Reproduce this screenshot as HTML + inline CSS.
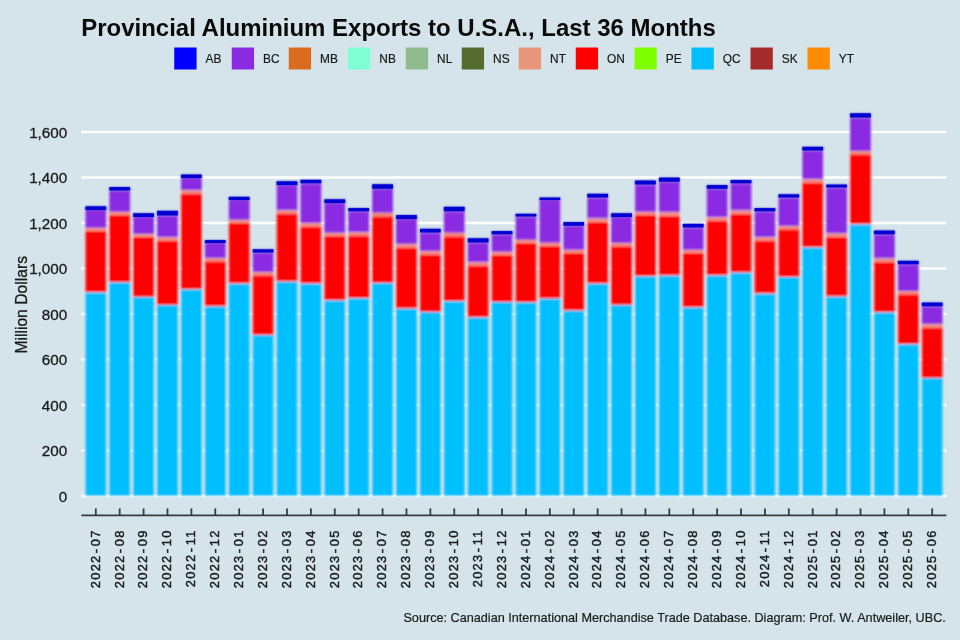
<!DOCTYPE html>
<html lang="en"><head><meta charset="utf-8">
<title>Provincial Aluminium Exports to U.S.A., Last 36 Months</title>
<style>
html,body{margin:0;padding:0;background:#d5e4eb;}
body{width:960px;height:640px;overflow:hidden;}
svg{display:block;}
text{font-family:"Liberation Sans",Arial,Helvetica,sans-serif;fill:#1a1a1a;}
.title{font-weight:bold;font-size:24px;fill:#0a0a0a;}
.leg{font-size:11.9px;stroke:#1a1a1a;stroke-width:0.2px;}
.yl{font-size:15.2px;text-anchor:end;stroke:#1a1a1a;stroke-width:0.3px;}
.yt{font-size:15.7px;text-anchor:middle;stroke:#1a1a1a;stroke-width:0.3px;}
.xl{font-family:"Liberation Sans",Arial,Helvetica,sans-serif;font-size:12.9px;letter-spacing:1.22px;text-anchor:end;stroke:#1a1a1a;stroke-width:0.45px;}
.cap{font-size:12.66px;text-anchor:end;stroke:#1a1a1a;stroke-width:0.2px;}
</style></head><body>
<svg width="960" height="640" viewBox="0 0 960 640">
<rect x="0" y="0" width="960" height="640" fill="#d5e4eb"/>
<text class="title" x="81.2" y="36" textLength="634.6" lengthAdjust="spacingAndGlyphs">Provincial Aluminium Exports to U.S.A., Last 36 Months</text>
<g>
<rect x="174.25" y="47.5" width="22.3" height="22" fill="#0000ff"/>
<text class="leg" x="205.55" y="63">AB</text>
<rect x="231.75" y="47.5" width="22.3" height="22" fill="#8a2be2"/>
<text class="leg" x="263.05" y="63">BC</text>
<rect x="288.75" y="47.5" width="22.3" height="22" fill="#d96c1f"/>
<text class="leg" x="320.05" y="63">MB</text>
<rect x="348.00" y="47.5" width="22.3" height="22" fill="#7fffd4"/>
<text class="leg" x="379.30" y="63">NB</text>
<rect x="405.75" y="47.5" width="22.3" height="22" fill="#8fbc8f"/>
<text class="leg" x="437.05" y="63">NL</text>
<rect x="461.75" y="47.5" width="22.3" height="22" fill="#556b2f"/>
<text class="leg" x="493.05" y="63">NS</text>
<rect x="518.75" y="47.5" width="22.3" height="22" fill="#e9967a"/>
<text class="leg" x="550.05" y="63">NT</text>
<rect x="575.75" y="47.5" width="22.3" height="22" fill="#ff0000"/>
<text class="leg" x="607.05" y="63">ON</text>
<rect x="634.50" y="47.5" width="22.3" height="22" fill="#7fff00"/>
<text class="leg" x="665.80" y="63">PE</text>
<rect x="691.50" y="47.5" width="22.3" height="22" fill="#00bfff"/>
<text class="leg" x="722.80" y="63">QC</text>
<rect x="750.50" y="47.5" width="22.3" height="22" fill="#a52a2a"/>
<text class="leg" x="781.80" y="63">SK</text>
<rect x="807.50" y="47.5" width="22.3" height="22" fill="#ff8c00"/>
<text class="leg" x="838.80" y="63">YT</text>
</g>
<g stroke="#ffffff" stroke-width="2.3">
<line x1="81.3" x2="946.3" y1="496.00" y2="496.00"/>
<line x1="81.3" x2="946.3" y1="450.50" y2="450.50"/>
<line x1="81.3" x2="946.3" y1="405.00" y2="405.00"/>
<line x1="81.3" x2="946.3" y1="359.50" y2="359.50"/>
<line x1="81.3" x2="946.3" y1="314.00" y2="314.00"/>
<line x1="81.3" x2="946.3" y1="268.50" y2="268.50"/>
<line x1="81.3" x2="946.3" y1="223.00" y2="223.00"/>
<line x1="81.3" x2="946.3" y1="177.50" y2="177.50"/>
<line x1="81.3" x2="946.3" y1="132.00" y2="132.00"/>
</g>
<g>
<text class="yl" x="67.2" y="501.90">0</text>
<text class="yl" x="67.2" y="456.40">200</text>
<text class="yl" x="67.2" y="410.90">400</text>
<text class="yl" x="67.2" y="365.40">600</text>
<text class="yl" x="67.2" y="319.90">800</text>
<text class="yl" x="67.2" y="274.40">1,000</text>
<text class="yl" x="67.2" y="228.90">1,200</text>
<text class="yl" x="67.2" y="183.40">1,400</text>
<text class="yl" x="67.2" y="137.90">1,600</text>
</g>
<text class="yt" transform="translate(26.9,304.8) rotate(-90)">Million Dollars</text>
<defs><filter id="soft" x="-2%" y="-2%" width="104%" height="104%"><feGaussianBlur stdDeviation="0.8"/></filter></defs>
<g stroke="#ffffff" stroke-width="0.5" stroke-opacity="0.55" filter="url(#soft)">
<rect x="85.15" y="206.25" width="21.30" height="3.75" fill="#0000c4"/>
<rect x="85.15" y="210.00" width="21.30" height="18.00" fill="#8a2be2"/>
<rect x="85.15" y="228.00" width="21.30" height="3.00" fill="#f27f6c"/>
<rect x="85.15" y="231.00" width="21.30" height="61.50" fill="#ff0000"/>
<rect x="85.15" y="292.50" width="21.30" height="203.50" fill="#00bfff"/>
<rect x="109.05" y="187.00" width="21.30" height="3.50" fill="#0000c4"/>
<rect x="109.05" y="190.50" width="21.30" height="21.50" fill="#8a2be2"/>
<rect x="109.05" y="212.00" width="21.30" height="3.00" fill="#f27f6c"/>
<rect x="109.05" y="215.00" width="21.30" height="67.50" fill="#ff0000"/>
<rect x="109.05" y="282.50" width="21.30" height="213.50" fill="#00bfff"/>
<rect x="132.94" y="213.25" width="21.30" height="3.75" fill="#0000c4"/>
<rect x="132.94" y="217.00" width="21.30" height="17.25" fill="#8a2be2"/>
<rect x="132.94" y="234.25" width="21.30" height="2.75" fill="#f27f6c"/>
<rect x="132.94" y="237.00" width="21.30" height="60.00" fill="#ff0000"/>
<rect x="132.94" y="297.00" width="21.30" height="199.00" fill="#00bfff"/>
<rect x="156.84" y="210.75" width="21.30" height="4.75" fill="#0000c4"/>
<rect x="156.84" y="215.50" width="21.30" height="22.00" fill="#8a2be2"/>
<rect x="156.84" y="237.50" width="21.30" height="3.00" fill="#f27f6c"/>
<rect x="156.84" y="240.50" width="21.30" height="64.50" fill="#ff0000"/>
<rect x="156.84" y="305.00" width="21.30" height="191.00" fill="#00bfff"/>
<rect x="180.74" y="174.50" width="21.30" height="3.50" fill="#0000c4"/>
<rect x="180.74" y="178.00" width="21.30" height="12.50" fill="#8a2be2"/>
<rect x="180.74" y="190.50" width="21.30" height="3.00" fill="#f27f6c"/>
<rect x="180.74" y="193.50" width="21.30" height="96.00" fill="#ff0000"/>
<rect x="180.74" y="289.50" width="21.30" height="206.50" fill="#00bfff"/>
<rect x="204.64" y="240.00" width="21.30" height="3.00" fill="#0000c4"/>
<rect x="204.64" y="243.00" width="21.30" height="15.25" fill="#8a2be2"/>
<rect x="204.64" y="258.25" width="21.30" height="3.00" fill="#f27f6c"/>
<rect x="204.64" y="261.25" width="21.30" height="45.25" fill="#ff0000"/>
<rect x="204.64" y="306.50" width="21.30" height="189.50" fill="#00bfff"/>
<rect x="228.53" y="196.75" width="21.30" height="3.25" fill="#0000c4"/>
<rect x="228.53" y="200.00" width="21.30" height="20.00" fill="#8a2be2"/>
<rect x="228.53" y="220.00" width="21.30" height="3.00" fill="#f27f6c"/>
<rect x="228.53" y="223.00" width="21.30" height="60.75" fill="#ff0000"/>
<rect x="228.53" y="283.75" width="21.30" height="212.25" fill="#00bfff"/>
<rect x="252.43" y="249.25" width="21.30" height="3.25" fill="#0000c4"/>
<rect x="252.43" y="252.50" width="21.30" height="19.75" fill="#8a2be2"/>
<rect x="252.43" y="272.25" width="21.30" height="3.00" fill="#f27f6c"/>
<rect x="252.43" y="275.25" width="21.30" height="59.75" fill="#ff0000"/>
<rect x="252.43" y="335.00" width="21.30" height="161.00" fill="#00bfff"/>
<rect x="276.33" y="181.25" width="21.30" height="3.75" fill="#0000c4"/>
<rect x="276.33" y="185.00" width="21.30" height="25.50" fill="#8a2be2"/>
<rect x="276.33" y="210.50" width="21.30" height="3.00" fill="#f27f6c"/>
<rect x="276.33" y="213.50" width="21.30" height="68.25" fill="#ff0000"/>
<rect x="276.33" y="281.75" width="21.30" height="214.25" fill="#00bfff"/>
<rect x="300.22" y="179.75" width="21.30" height="3.50" fill="#0000c4"/>
<rect x="300.22" y="183.25" width="21.30" height="40.00" fill="#8a2be2"/>
<rect x="300.22" y="223.25" width="21.30" height="3.25" fill="#f27f6c"/>
<rect x="300.22" y="226.50" width="21.30" height="57.25" fill="#ff0000"/>
<rect x="300.22" y="283.75" width="21.30" height="212.25" fill="#00bfff"/>
<rect x="324.12" y="199.25" width="21.30" height="3.75" fill="#0000c4"/>
<rect x="324.12" y="203.00" width="21.30" height="30.00" fill="#8a2be2"/>
<rect x="324.12" y="233.00" width="21.30" height="3.00" fill="#f27f6c"/>
<rect x="324.12" y="236.00" width="21.30" height="64.50" fill="#ff0000"/>
<rect x="324.12" y="300.50" width="21.30" height="195.50" fill="#00bfff"/>
<rect x="348.02" y="208.00" width="21.30" height="3.25" fill="#0000c4"/>
<rect x="348.02" y="211.25" width="21.30" height="21.25" fill="#8a2be2"/>
<rect x="348.02" y="232.50" width="21.30" height="3.00" fill="#f27f6c"/>
<rect x="348.02" y="235.50" width="21.30" height="62.75" fill="#ff0000"/>
<rect x="348.02" y="298.25" width="21.30" height="197.75" fill="#00bfff"/>
<rect x="371.92" y="184.25" width="21.30" height="4.50" fill="#0000c4"/>
<rect x="371.92" y="188.75" width="21.30" height="24.25" fill="#8a2be2"/>
<rect x="371.92" y="213.00" width="21.30" height="3.25" fill="#f27f6c"/>
<rect x="371.92" y="216.25" width="21.30" height="66.75" fill="#ff0000"/>
<rect x="371.92" y="283.00" width="21.30" height="213.00" fill="#00bfff"/>
<rect x="395.81" y="215.00" width="21.30" height="4.00" fill="#0000c4"/>
<rect x="395.81" y="219.00" width="21.30" height="25.50" fill="#8a2be2"/>
<rect x="395.81" y="244.50" width="21.30" height="3.00" fill="#f27f6c"/>
<rect x="395.81" y="247.50" width="21.30" height="61.25" fill="#ff0000"/>
<rect x="395.81" y="308.75" width="21.30" height="187.25" fill="#00bfff"/>
<rect x="419.71" y="228.75" width="21.30" height="3.75" fill="#0000c4"/>
<rect x="419.71" y="232.50" width="21.30" height="18.75" fill="#8a2be2"/>
<rect x="419.71" y="251.25" width="21.30" height="3.25" fill="#f27f6c"/>
<rect x="419.71" y="254.50" width="21.30" height="57.50" fill="#ff0000"/>
<rect x="419.71" y="312.00" width="21.30" height="184.00" fill="#00bfff"/>
<rect x="443.61" y="206.75" width="21.30" height="4.50" fill="#0000c4"/>
<rect x="443.61" y="211.25" width="21.30" height="21.75" fill="#8a2be2"/>
<rect x="443.61" y="233.00" width="21.30" height="3.25" fill="#f27f6c"/>
<rect x="443.61" y="236.25" width="21.30" height="65.00" fill="#ff0000"/>
<rect x="443.61" y="301.25" width="21.30" height="194.75" fill="#00bfff"/>
<rect x="467.50" y="238.25" width="21.30" height="4.25" fill="#0000c4"/>
<rect x="467.50" y="242.50" width="21.30" height="20.00" fill="#8a2be2"/>
<rect x="467.50" y="262.50" width="21.30" height="3.00" fill="#f27f6c"/>
<rect x="467.50" y="265.50" width="21.30" height="52.00" fill="#ff0000"/>
<rect x="467.50" y="317.50" width="21.30" height="178.50" fill="#00bfff"/>
<rect x="491.40" y="231.00" width="21.30" height="3.25" fill="#0000c4"/>
<rect x="491.40" y="234.25" width="21.30" height="17.75" fill="#8a2be2"/>
<rect x="491.40" y="252.00" width="21.30" height="3.00" fill="#f27f6c"/>
<rect x="491.40" y="255.00" width="21.30" height="47.00" fill="#ff0000"/>
<rect x="491.40" y="302.00" width="21.30" height="194.00" fill="#00bfff"/>
<rect x="515.30" y="213.75" width="21.30" height="2.75" fill="#0000c4"/>
<rect x="515.30" y="216.50" width="21.30" height="23.50" fill="#8a2be2"/>
<rect x="515.30" y="240.00" width="21.30" height="3.00" fill="#f27f6c"/>
<rect x="515.30" y="243.00" width="21.30" height="59.50" fill="#ff0000"/>
<rect x="515.30" y="302.50" width="21.30" height="193.50" fill="#00bfff"/>
<rect x="539.20" y="197.50" width="21.30" height="2.50" fill="#0000c4"/>
<rect x="539.20" y="200.00" width="21.30" height="43.00" fill="#8a2be2"/>
<rect x="539.20" y="243.00" width="21.30" height="2.75" fill="#f27f6c"/>
<rect x="539.20" y="245.75" width="21.30" height="53.00" fill="#ff0000"/>
<rect x="539.20" y="298.75" width="21.30" height="197.25" fill="#00bfff"/>
<rect x="563.09" y="222.00" width="21.30" height="3.75" fill="#0000c4"/>
<rect x="563.09" y="225.75" width="21.30" height="24.25" fill="#8a2be2"/>
<rect x="563.09" y="250.00" width="21.30" height="3.00" fill="#f27f6c"/>
<rect x="563.09" y="253.00" width="21.30" height="57.75" fill="#ff0000"/>
<rect x="563.09" y="310.75" width="21.30" height="185.25" fill="#00bfff"/>
<rect x="586.99" y="193.75" width="21.30" height="3.75" fill="#0000c4"/>
<rect x="586.99" y="197.50" width="21.30" height="21.25" fill="#8a2be2"/>
<rect x="586.99" y="218.75" width="21.30" height="3.00" fill="#f27f6c"/>
<rect x="586.99" y="221.75" width="21.30" height="62.00" fill="#ff0000"/>
<rect x="586.99" y="283.75" width="21.30" height="212.25" fill="#00bfff"/>
<rect x="610.89" y="213.25" width="21.30" height="3.75" fill="#0000c4"/>
<rect x="610.89" y="217.00" width="21.30" height="26.25" fill="#8a2be2"/>
<rect x="610.89" y="243.25" width="21.30" height="3.00" fill="#f27f6c"/>
<rect x="610.89" y="246.25" width="21.30" height="58.75" fill="#ff0000"/>
<rect x="610.89" y="305.00" width="21.30" height="191.00" fill="#00bfff"/>
<rect x="634.78" y="180.50" width="21.30" height="4.00" fill="#0000c4"/>
<rect x="634.78" y="184.50" width="21.30" height="27.50" fill="#8a2be2"/>
<rect x="634.78" y="212.00" width="21.30" height="3.00" fill="#f27f6c"/>
<rect x="634.78" y="215.00" width="21.30" height="61.25" fill="#ff0000"/>
<rect x="634.78" y="276.25" width="21.30" height="219.75" fill="#00bfff"/>
<rect x="658.68" y="177.50" width="21.30" height="4.25" fill="#0000c4"/>
<rect x="658.68" y="181.75" width="21.30" height="30.75" fill="#8a2be2"/>
<rect x="658.68" y="212.50" width="21.30" height="3.25" fill="#f27f6c"/>
<rect x="658.68" y="215.75" width="21.30" height="60.00" fill="#ff0000"/>
<rect x="658.68" y="275.75" width="21.30" height="220.25" fill="#00bfff"/>
<rect x="682.58" y="223.75" width="21.30" height="3.75" fill="#0000c4"/>
<rect x="682.58" y="227.50" width="21.30" height="22.50" fill="#8a2be2"/>
<rect x="682.58" y="250.00" width="21.30" height="3.00" fill="#f27f6c"/>
<rect x="682.58" y="253.00" width="21.30" height="54.50" fill="#ff0000"/>
<rect x="682.58" y="307.50" width="21.30" height="188.50" fill="#00bfff"/>
<rect x="706.48" y="185.00" width="21.30" height="3.75" fill="#0000c4"/>
<rect x="706.48" y="188.75" width="21.30" height="28.75" fill="#8a2be2"/>
<rect x="706.48" y="217.50" width="21.30" height="3.00" fill="#f27f6c"/>
<rect x="706.48" y="220.50" width="21.30" height="55.00" fill="#ff0000"/>
<rect x="706.48" y="275.50" width="21.30" height="220.50" fill="#00bfff"/>
<rect x="730.37" y="180.00" width="21.30" height="3.25" fill="#0000c4"/>
<rect x="730.37" y="183.25" width="21.30" height="27.50" fill="#8a2be2"/>
<rect x="730.37" y="210.75" width="21.30" height="3.00" fill="#f27f6c"/>
<rect x="730.37" y="213.75" width="21.30" height="59.00" fill="#ff0000"/>
<rect x="730.37" y="272.75" width="21.30" height="223.25" fill="#00bfff"/>
<rect x="754.27" y="208.00" width="21.30" height="3.25" fill="#0000c4"/>
<rect x="754.27" y="211.25" width="21.30" height="26.25" fill="#8a2be2"/>
<rect x="754.27" y="237.50" width="21.30" height="3.00" fill="#f27f6c"/>
<rect x="754.27" y="240.50" width="21.30" height="53.25" fill="#ff0000"/>
<rect x="754.27" y="293.75" width="21.30" height="202.25" fill="#00bfff"/>
<rect x="778.17" y="194.25" width="21.30" height="3.25" fill="#0000c4"/>
<rect x="778.17" y="197.50" width="21.30" height="28.75" fill="#8a2be2"/>
<rect x="778.17" y="226.25" width="21.30" height="3.00" fill="#f27f6c"/>
<rect x="778.17" y="229.25" width="21.30" height="47.75" fill="#ff0000"/>
<rect x="778.17" y="277.00" width="21.30" height="219.00" fill="#00bfff"/>
<rect x="802.06" y="146.75" width="21.30" height="3.75" fill="#0000c4"/>
<rect x="802.06" y="150.50" width="21.30" height="29.00" fill="#8a2be2"/>
<rect x="802.06" y="179.50" width="21.30" height="3.00" fill="#f27f6c"/>
<rect x="802.06" y="182.50" width="21.30" height="65.00" fill="#ff0000"/>
<rect x="802.06" y="247.50" width="21.30" height="248.50" fill="#00bfff"/>
<rect x="825.96" y="184.50" width="21.30" height="3.00" fill="#0000c4"/>
<rect x="825.96" y="187.50" width="21.30" height="46.25" fill="#8a2be2"/>
<rect x="825.96" y="233.75" width="21.30" height="3.25" fill="#f27f6c"/>
<rect x="825.96" y="237.00" width="21.30" height="59.75" fill="#ff0000"/>
<rect x="825.96" y="296.75" width="21.30" height="199.25" fill="#00bfff"/>
<rect x="849.86" y="113.25" width="21.30" height="4.25" fill="#0000c4"/>
<rect x="849.86" y="117.50" width="21.30" height="33.75" fill="#8a2be2"/>
<rect x="849.86" y="151.25" width="21.30" height="3.00" fill="#f27f6c"/>
<rect x="849.86" y="154.25" width="21.30" height="70.15" fill="#ff0000"/>
<rect x="849.86" y="224.40" width="21.30" height="271.60" fill="#00bfff"/>
<rect x="873.76" y="230.50" width="21.30" height="3.75" fill="#0000c4"/>
<rect x="873.76" y="234.25" width="21.30" height="24.50" fill="#8a2be2"/>
<rect x="873.76" y="258.75" width="21.30" height="3.25" fill="#f27f6c"/>
<rect x="873.76" y="262.00" width="21.30" height="50.50" fill="#ff0000"/>
<rect x="873.76" y="312.50" width="21.30" height="183.50" fill="#00bfff"/>
<rect x="897.65" y="260.75" width="21.30" height="3.50" fill="#0000c4"/>
<rect x="897.65" y="264.25" width="21.30" height="27.00" fill="#8a2be2"/>
<rect x="897.65" y="291.25" width="21.30" height="3.00" fill="#f27f6c"/>
<rect x="897.65" y="294.25" width="21.30" height="50.00" fill="#ff0000"/>
<rect x="897.65" y="344.25" width="21.30" height="151.75" fill="#00bfff"/>
<rect x="921.55" y="302.50" width="21.30" height="3.75" fill="#0000c4"/>
<rect x="921.55" y="306.25" width="21.30" height="18.25" fill="#8a2be2"/>
<rect x="921.55" y="324.50" width="21.30" height="3.00" fill="#f27f6c"/>
<rect x="921.55" y="327.50" width="21.30" height="50.50" fill="#ff0000"/>
<rect x="921.55" y="378.00" width="21.30" height="118.00" fill="#00bfff"/>
</g>
<g fill="#0000d2">
<rect x="85.45" y="206.35" width="20.70" height="3.65"/>
<rect x="109.35" y="187.10" width="20.70" height="3.40"/>
<rect x="133.24" y="213.35" width="20.70" height="3.65"/>
<rect x="157.14" y="210.85" width="20.70" height="4.65"/>
<rect x="181.04" y="174.60" width="20.70" height="3.40"/>
<rect x="204.94" y="240.10" width="20.70" height="2.90"/>
<rect x="228.83" y="196.85" width="20.70" height="3.15"/>
<rect x="252.73" y="249.35" width="20.70" height="3.15"/>
<rect x="276.63" y="181.35" width="20.70" height="3.65"/>
<rect x="300.52" y="179.85" width="20.70" height="3.40"/>
<rect x="324.42" y="199.35" width="20.70" height="3.65"/>
<rect x="348.32" y="208.10" width="20.70" height="3.15"/>
<rect x="372.22" y="184.35" width="20.70" height="4.40"/>
<rect x="396.11" y="215.10" width="20.70" height="3.90"/>
<rect x="420.01" y="228.85" width="20.70" height="3.65"/>
<rect x="443.91" y="206.85" width="20.70" height="4.40"/>
<rect x="467.80" y="238.35" width="20.70" height="4.15"/>
<rect x="491.70" y="231.10" width="20.70" height="3.15"/>
<rect x="515.60" y="213.85" width="20.70" height="2.65"/>
<rect x="539.50" y="197.60" width="20.70" height="2.40"/>
<rect x="563.39" y="222.10" width="20.70" height="3.65"/>
<rect x="587.29" y="193.85" width="20.70" height="3.65"/>
<rect x="611.19" y="213.35" width="20.70" height="3.65"/>
<rect x="635.08" y="180.60" width="20.70" height="3.90"/>
<rect x="658.98" y="177.60" width="20.70" height="4.15"/>
<rect x="682.88" y="223.85" width="20.70" height="3.65"/>
<rect x="706.78" y="185.10" width="20.70" height="3.65"/>
<rect x="730.67" y="180.10" width="20.70" height="3.15"/>
<rect x="754.57" y="208.10" width="20.70" height="3.15"/>
<rect x="778.47" y="194.35" width="20.70" height="3.15"/>
<rect x="802.36" y="146.85" width="20.70" height="3.65"/>
<rect x="826.26" y="184.60" width="20.70" height="2.90"/>
<rect x="850.16" y="113.35" width="20.70" height="4.15"/>
<rect x="874.06" y="230.60" width="20.70" height="3.65"/>
<rect x="897.95" y="260.85" width="20.70" height="3.40"/>
<rect x="921.85" y="302.60" width="20.70" height="3.65"/>
</g>
<g stroke="#343c40">
<line x1="81.3" x2="946.4" y1="515.3" y2="515.3" stroke-width="1.7"/>
<line x1="95.80" x2="95.80" y1="508.4" y2="515.3" stroke-width="1.8"/>
<line x1="119.70" x2="119.70" y1="508.4" y2="515.3" stroke-width="1.8"/>
<line x1="143.59" x2="143.59" y1="508.4" y2="515.3" stroke-width="1.8"/>
<line x1="167.49" x2="167.49" y1="508.4" y2="515.3" stroke-width="1.8"/>
<line x1="191.39" x2="191.39" y1="508.4" y2="515.3" stroke-width="1.8"/>
<line x1="215.29" x2="215.29" y1="508.4" y2="515.3" stroke-width="1.8"/>
<line x1="239.18" x2="239.18" y1="508.4" y2="515.3" stroke-width="1.8"/>
<line x1="263.08" x2="263.08" y1="508.4" y2="515.3" stroke-width="1.8"/>
<line x1="286.98" x2="286.98" y1="508.4" y2="515.3" stroke-width="1.8"/>
<line x1="310.87" x2="310.87" y1="508.4" y2="515.3" stroke-width="1.8"/>
<line x1="334.77" x2="334.77" y1="508.4" y2="515.3" stroke-width="1.8"/>
<line x1="358.67" x2="358.67" y1="508.4" y2="515.3" stroke-width="1.8"/>
<line x1="382.57" x2="382.57" y1="508.4" y2="515.3" stroke-width="1.8"/>
<line x1="406.46" x2="406.46" y1="508.4" y2="515.3" stroke-width="1.8"/>
<line x1="430.36" x2="430.36" y1="508.4" y2="515.3" stroke-width="1.8"/>
<line x1="454.26" x2="454.26" y1="508.4" y2="515.3" stroke-width="1.8"/>
<line x1="478.15" x2="478.15" y1="508.4" y2="515.3" stroke-width="1.8"/>
<line x1="502.05" x2="502.05" y1="508.4" y2="515.3" stroke-width="1.8"/>
<line x1="525.95" x2="525.95" y1="508.4" y2="515.3" stroke-width="1.8"/>
<line x1="549.85" x2="549.85" y1="508.4" y2="515.3" stroke-width="1.8"/>
<line x1="573.74" x2="573.74" y1="508.4" y2="515.3" stroke-width="1.8"/>
<line x1="597.64" x2="597.64" y1="508.4" y2="515.3" stroke-width="1.8"/>
<line x1="621.54" x2="621.54" y1="508.4" y2="515.3" stroke-width="1.8"/>
<line x1="645.43" x2="645.43" y1="508.4" y2="515.3" stroke-width="1.8"/>
<line x1="669.33" x2="669.33" y1="508.4" y2="515.3" stroke-width="1.8"/>
<line x1="693.23" x2="693.23" y1="508.4" y2="515.3" stroke-width="1.8"/>
<line x1="717.13" x2="717.13" y1="508.4" y2="515.3" stroke-width="1.8"/>
<line x1="741.02" x2="741.02" y1="508.4" y2="515.3" stroke-width="1.8"/>
<line x1="764.92" x2="764.92" y1="508.4" y2="515.3" stroke-width="1.8"/>
<line x1="788.82" x2="788.82" y1="508.4" y2="515.3" stroke-width="1.8"/>
<line x1="812.71" x2="812.71" y1="508.4" y2="515.3" stroke-width="1.8"/>
<line x1="836.61" x2="836.61" y1="508.4" y2="515.3" stroke-width="1.8"/>
<line x1="860.51" x2="860.51" y1="508.4" y2="515.3" stroke-width="1.8"/>
<line x1="884.41" x2="884.41" y1="508.4" y2="515.3" stroke-width="1.8"/>
<line x1="908.30" x2="908.30" y1="508.4" y2="515.3" stroke-width="1.8"/>
<line x1="932.20" x2="932.20" y1="508.4" y2="515.3" stroke-width="1.8"/>
</g>
<g>
<text class="xl" dx="0 0 0 0 1.44 1.44" transform="translate(99.60,529.4) rotate(-90)">2022-07</text>
<text class="xl" dx="0 0 0 0 1.44 1.44" transform="translate(123.50,529.4) rotate(-90)">2022-08</text>
<text class="xl" dx="0 0 0 0 1.44 1.44" transform="translate(147.39,529.4) rotate(-90)">2022-09</text>
<text class="xl" dx="0 0 0 0 1.44 1.44" transform="translate(171.29,529.4) rotate(-90)">2022-10</text>
<text class="xl" dx="0 0 0 0 1.44 1.44" transform="translate(195.19,529.4) rotate(-90)">2022-11</text>
<text class="xl" dx="0 0 0 0 1.44 1.44" transform="translate(219.09,529.4) rotate(-90)">2022-12</text>
<text class="xl" dx="0 0 0 0 1.44 1.44" transform="translate(242.98,529.4) rotate(-90)">2023-01</text>
<text class="xl" dx="0 0 0 0 1.44 1.44" transform="translate(266.88,529.4) rotate(-90)">2023-02</text>
<text class="xl" dx="0 0 0 0 1.44 1.44" transform="translate(290.78,529.4) rotate(-90)">2023-03</text>
<text class="xl" dx="0 0 0 0 1.44 1.44" transform="translate(314.67,529.4) rotate(-90)">2023-04</text>
<text class="xl" dx="0 0 0 0 1.44 1.44" transform="translate(338.57,529.4) rotate(-90)">2023-05</text>
<text class="xl" dx="0 0 0 0 1.44 1.44" transform="translate(362.47,529.4) rotate(-90)">2023-06</text>
<text class="xl" dx="0 0 0 0 1.44 1.44" transform="translate(386.37,529.4) rotate(-90)">2023-07</text>
<text class="xl" dx="0 0 0 0 1.44 1.44" transform="translate(410.26,529.4) rotate(-90)">2023-08</text>
<text class="xl" dx="0 0 0 0 1.44 1.44" transform="translate(434.16,529.4) rotate(-90)">2023-09</text>
<text class="xl" dx="0 0 0 0 1.44 1.44" transform="translate(458.06,529.4) rotate(-90)">2023-10</text>
<text class="xl" dx="0 0 0 0 1.44 1.44" transform="translate(481.95,529.4) rotate(-90)">2023-11</text>
<text class="xl" dx="0 0 0 0 1.44 1.44" transform="translate(505.85,529.4) rotate(-90)">2023-12</text>
<text class="xl" dx="0 0 0 0 1.44 1.44" transform="translate(529.75,529.4) rotate(-90)">2024-01</text>
<text class="xl" dx="0 0 0 0 1.44 1.44" transform="translate(553.65,529.4) rotate(-90)">2024-02</text>
<text class="xl" dx="0 0 0 0 1.44 1.44" transform="translate(577.54,529.4) rotate(-90)">2024-03</text>
<text class="xl" dx="0 0 0 0 1.44 1.44" transform="translate(601.44,529.4) rotate(-90)">2024-04</text>
<text class="xl" dx="0 0 0 0 1.44 1.44" transform="translate(625.34,529.4) rotate(-90)">2024-05</text>
<text class="xl" dx="0 0 0 0 1.44 1.44" transform="translate(649.23,529.4) rotate(-90)">2024-06</text>
<text class="xl" dx="0 0 0 0 1.44 1.44" transform="translate(673.13,529.4) rotate(-90)">2024-07</text>
<text class="xl" dx="0 0 0 0 1.44 1.44" transform="translate(697.03,529.4) rotate(-90)">2024-08</text>
<text class="xl" dx="0 0 0 0 1.44 1.44" transform="translate(720.93,529.4) rotate(-90)">2024-09</text>
<text class="xl" dx="0 0 0 0 1.44 1.44" transform="translate(744.82,529.4) rotate(-90)">2024-10</text>
<text class="xl" dx="0 0 0 0 1.44 1.44" transform="translate(768.72,529.4) rotate(-90)">2024-11</text>
<text class="xl" dx="0 0 0 0 1.44 1.44" transform="translate(792.62,529.4) rotate(-90)">2024-12</text>
<text class="xl" dx="0 0 0 0 1.44 1.44" transform="translate(816.51,529.4) rotate(-90)">2025-01</text>
<text class="xl" dx="0 0 0 0 1.44 1.44" transform="translate(840.41,529.4) rotate(-90)">2025-02</text>
<text class="xl" dx="0 0 0 0 1.44 1.44" transform="translate(864.31,529.4) rotate(-90)">2025-03</text>
<text class="xl" dx="0 0 0 0 1.44 1.44" transform="translate(888.21,529.4) rotate(-90)">2025-04</text>
<text class="xl" dx="0 0 0 0 1.44 1.44" transform="translate(912.10,529.4) rotate(-90)">2025-05</text>
<text class="xl" dx="0 0 0 0 1.44 1.44" transform="translate(936.00,529.4) rotate(-90)">2025-06</text>
</g>
<text class="cap" x="945.8" y="621.8">Source: Canadian International Merchandise Trade Database. Diagram: Prof. W. Antweiler, UBC.</text>
</svg>
</body></html>
